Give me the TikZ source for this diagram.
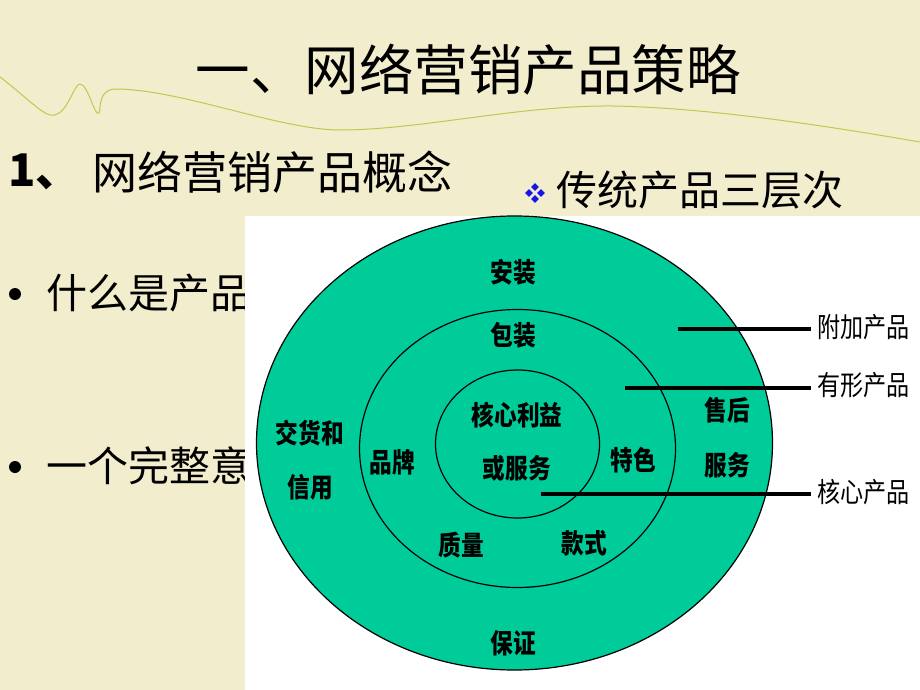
\documentclass[tikz,border=0pt]{standalone}
\usepackage{fontspec}
\setmainfont{Noto Sans CJK SC}
\newfontfamily\narrowcjk{Noto Sans CJK SC}[FakeStretch=0.84]
\definecolor{bgc}{RGB}{242,237,204}
\definecolor{ringgreen}{RGB}{0,204,153}
\definecolor{wavegreen}{RGB}{184,204,80}
\definecolor{bulletblue}{RGB}{20,20,240}
\tikzset{
  lab/.style={font=\narrowcjk\fontsize{27}{27}\selectfont\bfseries, inner sep=0pt, align=center},
  side/.style={font=\narrowcjk\fontsize{27.5}{27.5}\selectfont, inner sep=0pt, anchor=west},
  ring/.style={draw=black, line width=1.2pt},
  lead/.style={draw=black, line width=3.5pt},
  slidetext/.style={inner sep=0pt, anchor=west},
  dot/.style={circle, fill=black, inner sep=0pt, minimum size=12pt},
}
\begin{document}
\begin{tikzpicture}[x=1pt,y=-1pt]
\fill[bgc] (0,0) rectangle (920,690);
\useasboundingbox (0,0) rectangle (920,690);
% decorative wave
\draw[wavegreen, line width=1pt] (0,77) .. controls (30,100) and (45,118) .. (55,115)
  .. controls (68,112) and (74,84) .. (80,84)
  .. controls (88,84) and (95,118) .. (99,113)
  .. controls (101,108) and (98,90) .. (115,89)
  .. controls (180,89) and (280,130) .. (340,130)
  .. controls (420,130) and (520,105) .. (613,106)
  .. controls (720,108) and (850,130) .. (920,142);
% title
\node[inner sep=0pt, font=\fontsize{54.5}{54.5}\selectfont] (title) at (468,70) {一、网络营销产品策略};
% subtitle
\node[slidetext, font=\fontsize{45}{45}\selectfont\bfseries] (num) at (8,172) {1、};
\node[slidetext, font=\fontsize{45}{45}\selectfont] (sub) at (92,172) {网络营销产品概念};
% bullets
\node[dot] (b1) at (15,294) {};
\node[slidetext, font=\fontsize{41}{41}\selectfont] (t1) at (46,293) {什么是产品};
\node[dot] (b2) at (15,467) {};
\node[slidetext, font=\fontsize{41}{41}\selectfont] (t2) at (46,466) {一个完整意};
% diamond bullet
\foreach \cx/\cy in {535/187, 529/193, 541/193, 535/199}{
  \fill[bulletblue] (\cx,\cy-3.8) -- (\cx+3.8,\cy) -- (\cx,\cy+3.8) -- (\cx-3.8,\cy) -- cycle;
}
\node[slidetext, font=\fontsize{41}{41}\selectfont] (three) at (556,190) {传统产品三层次};
% white picture area
\fill[white] (245,216) rectangle (920,690);
% rings
\fill[ringgreen] (514.5,443) ellipse [x radius=258pt, y radius=227pt];
\draw[ring] (514.5,443) ellipse [x radius=258pt, y radius=227pt];
\draw[ring] (517.5,448.5) ellipse [x radius=158pt, y radius=139pt];
\draw[ring] (517.5,444) ellipse [x radius=82pt, y radius=74pt];
% labels inside rings
\node[lab] (anzhuang) at (513,272) {安装};
\node[lab] (baozhuang) at (513,335) {包装};
\node[lab] (hexin1) at (517,415) {核心利益};
\node[lab] (hexin2) at (517,468) {或服务};
\node[lab] (jiaohuo) at (310,433) {交货和};
\node[lab] (xinyong) at (310,487) {信用};
\node[lab] (pinpai) at (392,462) {品牌};
\node[lab] (tese) at (633,460) {特色};
\node[lab] (shouhou) at (727,410) {售后};
\node[lab] (fuwu) at (727,465) {服务};
\node[lab] (zhiliang) at (461,545) {质量};
\node[lab] (kuanshi) at (584,543) {款式};
\node[lab] (baozheng) at (513,643) {保证};
% side labels
\node[side] (fujia) at (817,327) {附加产品};
\node[side] (youxing) at (817,385) {有形产品};
\node[side] (hexinp) at (817,492) {核心产品};
% leader lines
\coordinate (fujiaS) at (678,329);
\coordinate (youxingS) at (625,388);
\coordinate (hexinS) at (541,494);
\draw[lead] (fujiaS) -- ([xshift=-6pt]fujia.west |- fujiaS);
\draw[lead] (youxingS) -- ([xshift=-6pt]youxing.west |- youxingS);
\draw[lead] (hexinS) -- ([xshift=-6pt]hexinp.west |- hexinS);
\end{tikzpicture}
\end{document}
